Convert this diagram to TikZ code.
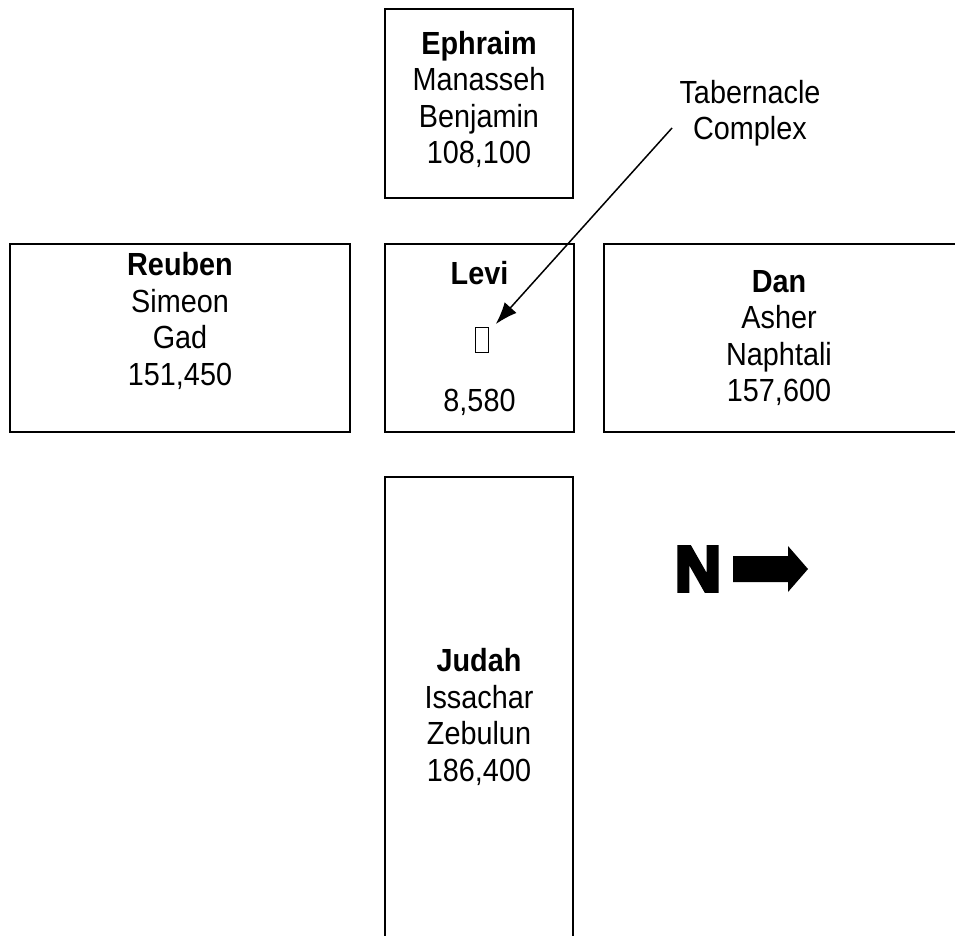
\documentclass[tikz,border=0pt]{standalone}
\usepackage{fontspec}
\setmainfont{Liberation Sans}[FakeStretch=0.9]
\newfontfamily\heavyfont{Liberation Sans Bold}[FakeBold=6]
\usetikzlibrary{arrows.meta}
\begin{document}
\begin{tikzpicture}[x=1pt,y=-1pt,camp/.style={draw,line width=2pt,anchor=north west,inner sep=0pt},tribes/.style={align=center,font=\fontsize{32}{36.5}\selectfont},ptr/.style={line width=1.5pt,-{Latex[length=22pt,width=16pt]},shorten >=11pt}]
\useasboundingbox (0,0) rectangle (955,936);
\foreach \n/\x/\y/\w/\h in %
{ephraim/384/8/188/189,reuben/9/243/340/188,levi/384/243/189/188,dan/603/243/380/188,judah/384/476/188/480} {
   \node[camp,minimum width=\w pt,minimum height=\h pt] (\n) at (\x,\y) {};
}
\node[tribes] (ephraimtxt) at ([yshift=4pt]ephraim.center) {\textbf{Ephraim}\\Manasseh\\Benjamin\\108,100};
\node[tribes] (reubentxt) at ([yshift=17pt]reuben.center) {\textbf{Reuben}\\Simeon\\Gad\\151,450};
\node[tribes] (dantxt) at ([xshift=-15pt]dan.center) {\textbf{Dan}\\Asher\\Naphtali\\157,600};
\node[tribes] (judahtxt) at (judah.center) {\textbf{Judah}\\Issachar\\Zebulun\\186,400};
\node[tribes] (levitxt) at ([yshift=-30pt]levi.north) {\textbf{Levi}};
\node[tribes] (levinum) at ([yshift=31pt]levi.south) {8,580};
\node[draw,line width=1pt,inner sep=0pt,minimum width=13pt,minimum height=25pt] (tofu) at ([xshift=2pt,yshift=-2pt]levi.center) {};
\node[tribes] (tabernacle) at (750,113) {Tabernacle\\Complex};
\coordinate (tail) at (672,128);
\draw[ptr] (tail) -- (tofu);
% compass
\node[font=\fontsize{64}{64}\heavyfont] (north) at (698,569) {N};
\fill (733,556) -- (788,556) -- (788,546) -- (808,569) -- (788,592) -- (788,582) -- (733,582) -- cycle;
\end{tikzpicture}
\end{document}
